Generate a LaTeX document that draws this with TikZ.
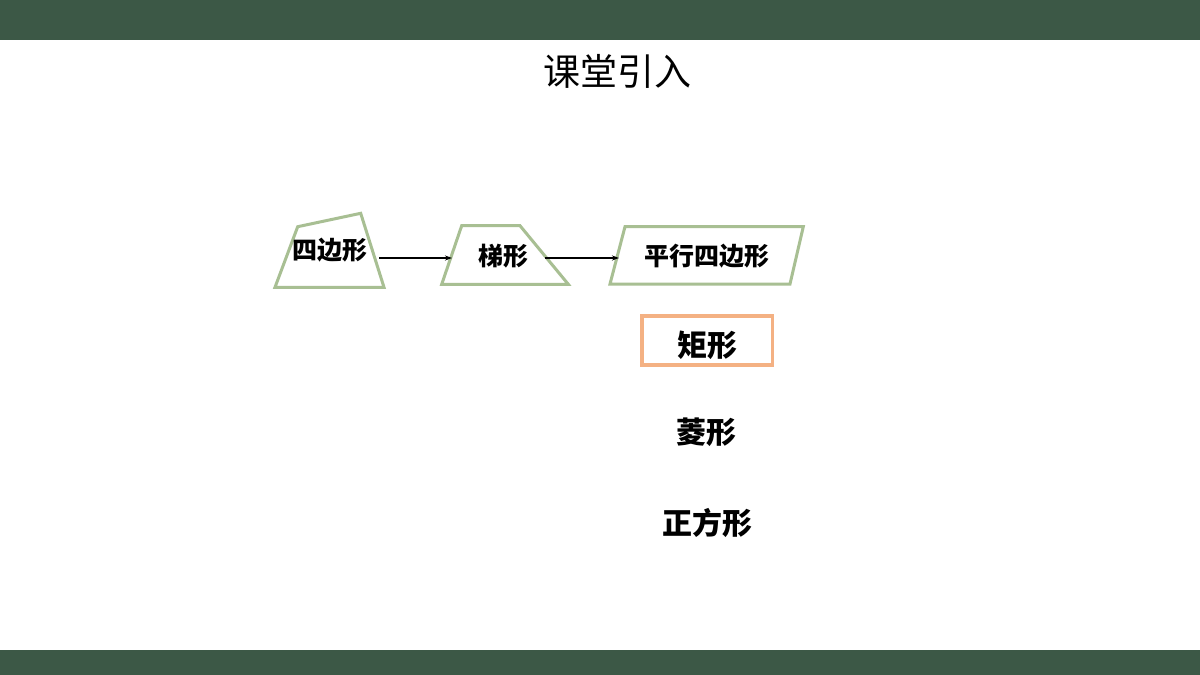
\documentclass[tikz,border=0pt]{standalone}
\usepackage{fontspec}
\newfontfamily\cjk{Noto Sans CJK SC}
\usetikzlibrary{arrows.meta}
\definecolor{bar}{HTML}{3C5846}
\definecolor{shapegreen}{HTML}{A8BF93}
\definecolor{orangeb}{HTML}{F4B183}
\tikzset{
  shapeline/.style={draw=shapegreen, line width=3pt, line join=miter},
  lbl/.style={font=\cjk\bfseries\fontsize{25}{28}\selectfont, text=black, inner sep=0pt},
  biglbl/.style={font=\cjk\bfseries\fontsize{30}{33}\selectfont, text=black, inner sep=0pt},
  conn/.style={draw=black, line width=1.5pt, -{Stealth[length=7pt,width=5pt]}}
}
\begin{document}
\begin{tikzpicture}[x=1pt,y=-1pt]
\useasboundingbox (0,0) rectangle (1200,675);
\fill[white] (0,0) rectangle (1200,675);
\fill[bar] (0,0) rectangle (1200,40);
\fill[bar] (0,650) rectangle (1200,675);
\node[font=\cjk\fontsize{37}{40}\selectfont, inner sep=0pt] (title) at (617,71) {课堂引入};
% quadrilateral
\draw[shapeline] (297.7,226.7) -- (360.7,213.3) -- (384,287.3) -- (275,287.3) -- cycle;
\node[lbl] (quad) at (330,250) {四边形};
% trapezoid
\draw[shapeline] (461.7,225.7) -- (520,225.7) -- (568.3,284.3) -- (441.7,284.3) -- cycle;
\node[lbl] (trap) at (503,256) {梯形};
% parallelogram
\draw[shapeline] (625,226.7) -- (803.3,226.7) -- (790,284) -- (610,284) -- cycle;
\node[lbl] (para) at (707,256) {平行四边形};
% arrows
\coordinate (a1s) at (379,258);
\coordinate (a1e) at (452,258);
\coordinate (a2s) at (545,258);
\coordinate (a2e) at (619,258);
\draw[conn] (a1s) -- (a1e);
\draw[conn] (a2s) -- (a2e);
% rectangle
\draw[draw=orangeb, line width=3.5pt] (642,316) rectangle (772.5,365);
\node[biglbl] (rect) at (707,345) {矩形};
\node[biglbl] (rhom) at (706,432) {菱形};
\node[biglbl] (sq) at (707,523) {正方形};
\end{tikzpicture}
\end{document}
